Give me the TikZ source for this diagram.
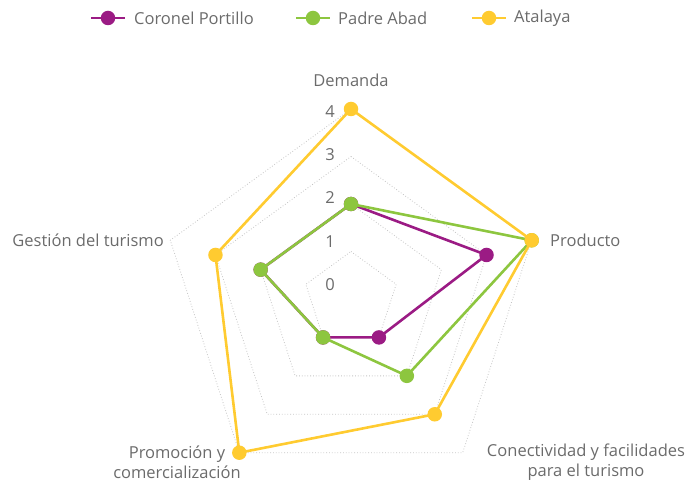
\documentclass[tikz,border=0pt]{standalone}
\usepackage{fontspec}
\setmainfont{Open Sans}
\definecolor{cp}{HTML}{9B1B84}
\definecolor{pa}{HTML}{8DC63F}
\definecolor{at}{HTML}{FFCB30}
\definecolor{txt}{HTML}{6B6B6B}
\definecolor{gridc}{HTML}{C4C4C4}
\begin{document}
\begin{tikzpicture}[x=1pt,y=1pt,
  gridline/.style={draw=gridc, line width=0.8pt, dotted},
  series/.style={line width=2.6pt, line join=round, draw=#1},
  marker/.style={circle, fill=#1, inner sep=0pt, minimum size=14.5pt},
  lbl/.style={text=txt, font=\fontsize{16.5}{20}\selectfont, inner sep=0pt},
]
\useasboundingbox (0,0) rectangle (689,488);
\coordinate (C) at (351,189);
% grid
\begin{scope}[shift={(351,189)}]
\foreach \r in {1,2,3,4}{
  \draw[gridline] (90:\r*47.5) -- (18:\r*47.5) -- (-54:\r*47.5) -- (-126:\r*47.5) -- (162:\r*47.5) -- cycle;
}
% data coordinates
\coordinate (c1) at (90:2*47.5);
\coordinate (c2) at (18:3*47.5);
\coordinate (c3) at (-54:1*47.5);
\coordinate (c4) at (-126:1*47.5);
\coordinate (c5) at (162:2*47.5);
\coordinate (p1) at (90:2*47.5);
\coordinate (p2) at (18:4*47.5);
\coordinate (p3) at (-54:2*47.5);
\coordinate (p4) at (-126:1*47.5);
\coordinate (p5) at (162:2*47.5);
\coordinate (a1) at (90:4*47.5);
\coordinate (a2) at (18:4*47.5);
\coordinate (a3) at (-54:3*47.5);
\coordinate (a4) at (-126:4*47.5);
\coordinate (a5) at (162:3*47.5);
\end{scope}
% scale labels
\node[lbl] (s0) at (330,203) {0};
\node[lbl] (s1) at (330,246) {1};
\node[lbl] (s2) at (330,290) {2};
\node[lbl] (s3) at (330,333) {3};
\node[lbl] (s4) at (330,376) {4};
% series
\draw[series=cp] (c1) -- (c2) -- (c3) -- (c4) -- (c5) -- cycle;
\foreach \i in {1,...,5} \node[marker=cp] (mc\i) at (c\i) {};
\draw[series=pa] (p1) -- (p2) -- (p3) -- (p4) -- (p5) -- cycle;
\foreach \i in {1,...,5} \node[marker=pa] (mp\i) at (p\i) {};
\draw[series=at] (a1) -- (a2) -- (a3) -- (a4) -- (a5) -- cycle;
\foreach \i in {1,...,5} \node[marker=at] (ma\i) at (a\i) {};
% axis labels
\node[lbl] (dem) at (351,408) {Demanda};
\node[lbl, anchor=west] (pro) at (550,248) {Producto};
\node[lbl, anchor=east] (ges) at (164,248) {Gestión del turismo};
\node[lbl, align=center] (prom) at (177,26) {Promoción y\\comercialización};
\node[lbl, align=center] (con) at (586,26) {Conectividad y facilidades\\para el turismo};
% legend
\coordinate (l1a) at (91,470); \coordinate (l1b) at (125,470);
\coordinate (l2a) at (296,470); \coordinate (l2b) at (330,470);
\coordinate (l3a) at (472,470); \coordinate (l3b) at (506,470);
\draw[series=cp] (l1a) -- (l1b);
\node[marker=cp] (lm1) at (108,470) {};
\node[lbl, anchor=west] (lt1) at (134,470) {Coronel Portillo};
\draw[series=pa] (l2a) -- (l2b);
\node[marker=pa] (lm2) at (313,470) {};
\node[lbl, anchor=west] (lt2) at (338,470) {Padre Abad};
\draw[series=at] (l3a) -- (l3b);
\node[marker=at] (lm3) at (489,470) {};
\node[lbl, anchor=west] (lt3) at (514,470) {Atalaya};
\end{tikzpicture}
\end{document}
